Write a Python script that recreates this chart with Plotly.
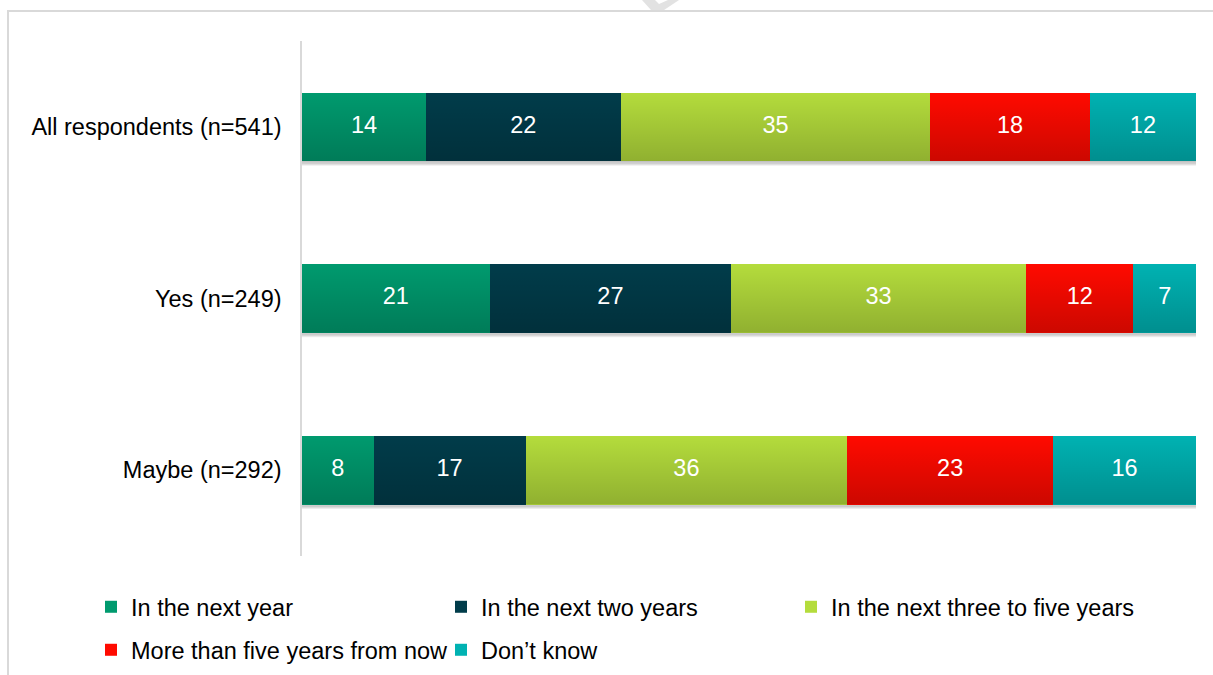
import plotly.graph_objects as go

# Survey groups (rows, top to bottom) and answer categories
groups = ["All respondents (n=541)", "Yes (n=249)", "Maybe (n=292)"]
series_names = [
    "In the next year",
    "In the next two years",
    "In the next three to five years",
    "More than five years from now",
    "Don\u2019t know",
]

# Percent of respondents per group
next_year = [14, 21, 8]
next_two_years = [22, 27, 17]
three_to_five_years = [35, 33, 36]
more_than_five_years = [18, 12, 23]
dont_know = [12, 7, 16]

series_values = [next_year, next_two_years, three_to_five_years,
                 more_than_five_years, dont_know]
colors = ["#009a6e", "#013c4a", "#b4dc3c", "#ff0a00", "#00b2b2"]
# first legend row holds three entries, the second row the rest
legend_ids = ["legend", "legend", "legend", "legend2", "legend2"]

FONT = "Liberation Sans, Arial, sans-serif"
FS = 23.5
BAR_W = 0.4
rows = list(range(len(groups)))

# Plot-area geometry in pixels
L, T, W, H = 302, 41, 894, 515
def pxx(v):
    return (v - L) / W
def pxy(v):
    return (T + H - v) / H

fig = go.Figure()

# Stacked 100% bars
for name, vals, col, lg in zip(series_names, series_values, colors, legend_ids):
    fig.add_trace(go.Bar(
        y=rows, x=vals, name=name, orientation="h", width=BAR_W,
        marker=dict(color=col, line=dict(width=0)),
        legend=lg, hoverinfo="skip",
    ))

# Vertical shading over each bar (light top, darker bottom)
for r in rows:
    y0, y1 = r - BAR_W / 2, r + BAR_W / 2
    fig.add_trace(go.Scatter(
        x=[0, 100, 100, 0, 0], y=[y0, y0, y1, y1, y0],
        mode="none", fill="toself",
        fillgradient=dict(type="vertical", start=y0, stop=y1,
                          colorscale=[[0, "rgba(0,0,0,0)"], [1, "rgba(0,0,0,0.2)"]]),
        showlegend=False, hoverinfo="skip",
    ))

# Value labels at the centre of each segment (same normalisation as barnorm)
lab_x, lab_y, lab_t = [], [], []
for r in rows:
    row_vals = [s[r] for s in series_values]
    total = sum(row_vals)
    cum = 0
    for v in row_vals:
        lab_x.append((cum + v / 2) / total * 100)
        lab_y.append(r)
        lab_t.append(str(v))
        cum += v
fig.add_trace(go.Scatter(
    x=lab_x, y=lab_y, text=lab_t, mode="text",
    textfont=dict(family=FONT, size=FS, color="#ffffff"),
    showlegend=False, hoverinfo="skip",
))

# Soft drop shadow under each bar
shapes = []
px_x = 100 / W
px_y = 3 / H
for r in rows:
    for k in range(1, 4):
        shapes.append(dict(
            type="rect", xref="x", yref="y", layer="below",
            x0=0, x1=100 + (k + 1) * px_x,
            y0=r - BAR_W / 2 + 2 * px_y, y1=r + BAR_W / 2 + (k + 1.5) * px_y,
            line=dict(width=0), fillcolor="rgba(0,0,0,0.07)",
        ))

# Light frame around the chart area
shapes.append(dict(
    type="path", xref="paper", yref="paper", layer="below",
    path=f"M {pxx(8)} {pxy(680)} L {pxx(8)} {pxy(11)} L {pxx(1220)} {pxy(11)}",
    line=dict(color="#d9d9d9", width=2),
))

# Faint watermark fragment at the top edge
wm = [(642, 0), (655, 0), (659, 4), (668, 0), (679, 0), (664, 10), (651, 10)]
shapes.append(dict(
    type="path", xref="paper", yref="paper", layer="below",
    path="M " + " L ".join(f"{pxx(a)} {pxy(b)}" for a, b in wm) + " Z",
    fillcolor="#e2e2e2", line=dict(width=0),
))

legend_common = dict(
    orientation="h", xanchor="left", yanchor="top",
    entrywidth=305, entrywidthmode="pixels",
    font=dict(family=FONT, size=FS, color="#000000"),
    traceorder="normal", bgcolor="rgba(0,0,0,0)",
)

fig.update_layout(
    width=1213, height=675,
    margin=dict(l=L, r=1213 - L - W, t=T, b=675 - T - H, autoexpand=False),
    paper_bgcolor="#ffffff", plot_bgcolor="#ffffff",
    barmode="stack", barnorm="percent",
    font=dict(family=FONT, size=FS, color="#000000"),
    showlegend=True,
    legend=dict(x=pxx(91), y=pxy(585), **legend_common),
    legend2=dict(x=pxx(91), y=pxy(628), **legend_common),
    xaxis=dict(range=[0, 100], visible=False, fixedrange=True),
    yaxis=dict(
        range=[len(groups) - 0.5, -0.5], tickvals=rows, ticktext=groups,
        showline=True, linecolor="#d9d9d9", linewidth=1.5,
        showgrid=False, zeroline=False, ticks="", ticklabelstandoff=14,
        tickfont=dict(family=FONT, size=FS, color="#000000"),
    ),
    shapes=shapes,
)

fig.write_html("out.html")
